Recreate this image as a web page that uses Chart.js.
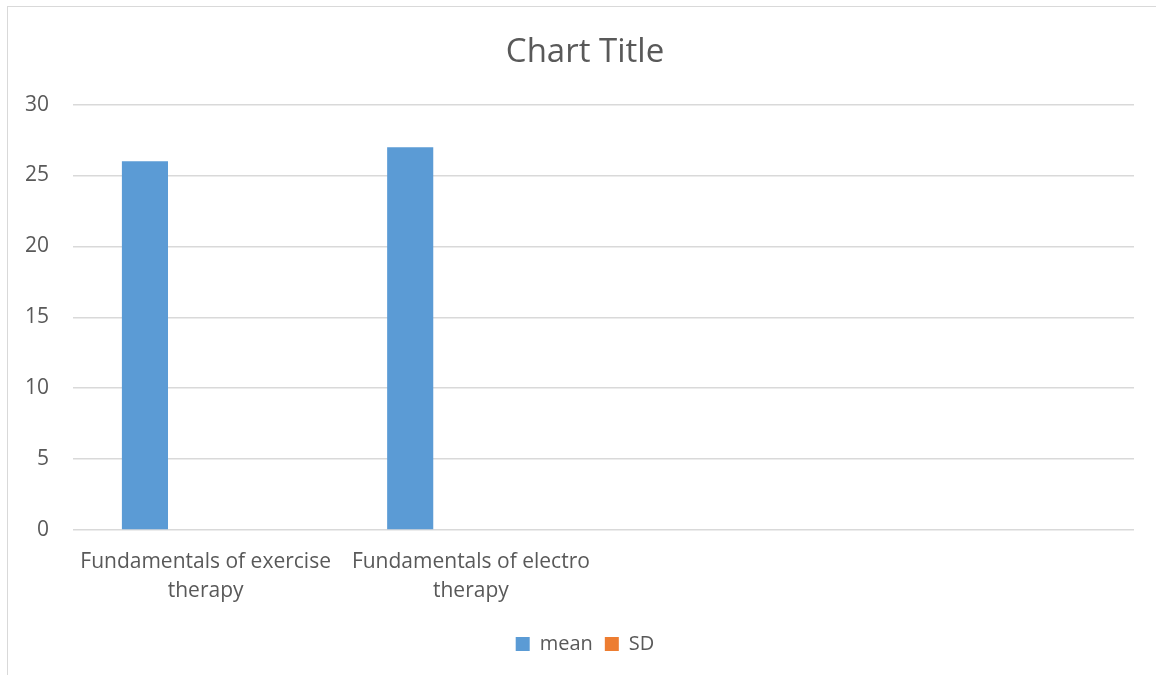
<!DOCTYPE html>
<html>
<head>
<meta charset="utf-8">
<script src="https://cdn.jsdelivr.net/npm/chart.js@4"></script>
<style>
  html, body { margin: 0; padding: 0; background: #fff; overflow: hidden; }
  #frame { position: absolute; left: 7px; top: 6px; width: 1160px; height: 680px; border-left: 1px solid #d9d9d9; border-top: 1px solid #d9d9d9; }
  #wrap { position: absolute; left: 0; top: 0; width: 1156px; height: 675px; overflow: hidden; }
</style>
</head>
<body>
<div id="frame"></div>
<div id="wrap"><canvas id="c" width="1156" height="675"></canvas></div>
<script>
const categories = [["Fundamentals of exercise", "therapy"], ["Fundamentals of electro", "therapy"], "", ""];
const meanValues = [26, 27, null, null];
const sdValues = [null, null, null, null];
const yTicks = [0, 5, 10, 15, 20, 25, 30];

const textColor = '#595959';
const font = 'Open Sans';

new Chart(document.getElementById('c'), {
  type: 'bar',
  data: {
    labels: categories,
    datasets: [
      { label: 'mean', data: meanValues, backgroundColor: '#5b9bd5', categoryPercentage: 0.915, barPercentage: 0.38 },
      { label: 'SD', data: sdValues, backgroundColor: '#ed7d31', categoryPercentage: 0.915, barPercentage: 0.38 }
    ]
  },
  options: {
    responsive: false,
    animation: false,
    layout: { padding: { left: 36, right: 22, top: 20, bottom: 11 } },
    plugins: {
      title: {
        display: true, text: 'Chart Title', color: textColor,
        font: { family: font, size: 33, weight: 'normal', lineHeight: 1.2 },
        padding: { top: 13, bottom: 32 }
      },
      legend: {
        position: 'bottom',
        labels: {
          color: textColor, font: { family: font, size: 20 },
          boxWidth: 14, boxHeight: 14, padding: 12
        }
      },
      tooltip: { enabled: false }
    },
    scales: {
      x: {
        grid: { display: false },
        border: { display: false },
        afterFit: (s) => { s.height = 92; },
        ticks: { color: textColor, font: { family: font, size: 21, lineHeight: 1.38 }, maxRotation: 0, autoSkip: false, padding: 10 }
      },
      y: {
        min: 0, max: 30,
        afterBuildTicks: (s) => { s.ticks = yTicks.map(v => ({ value: v })); },
        afterFit: (s) => { s.width = 37; },
        grid: { color: '#d9d9d9', lineWidth: 1.5, drawTicks: false },
        border: { display: false },
        ticks: { color: textColor, font: { family: font, size: 21 }, mirror: true, crossAlign: 'far', padding: -48 }
      }
    }
  }
});
</script>
</body>
</html>
